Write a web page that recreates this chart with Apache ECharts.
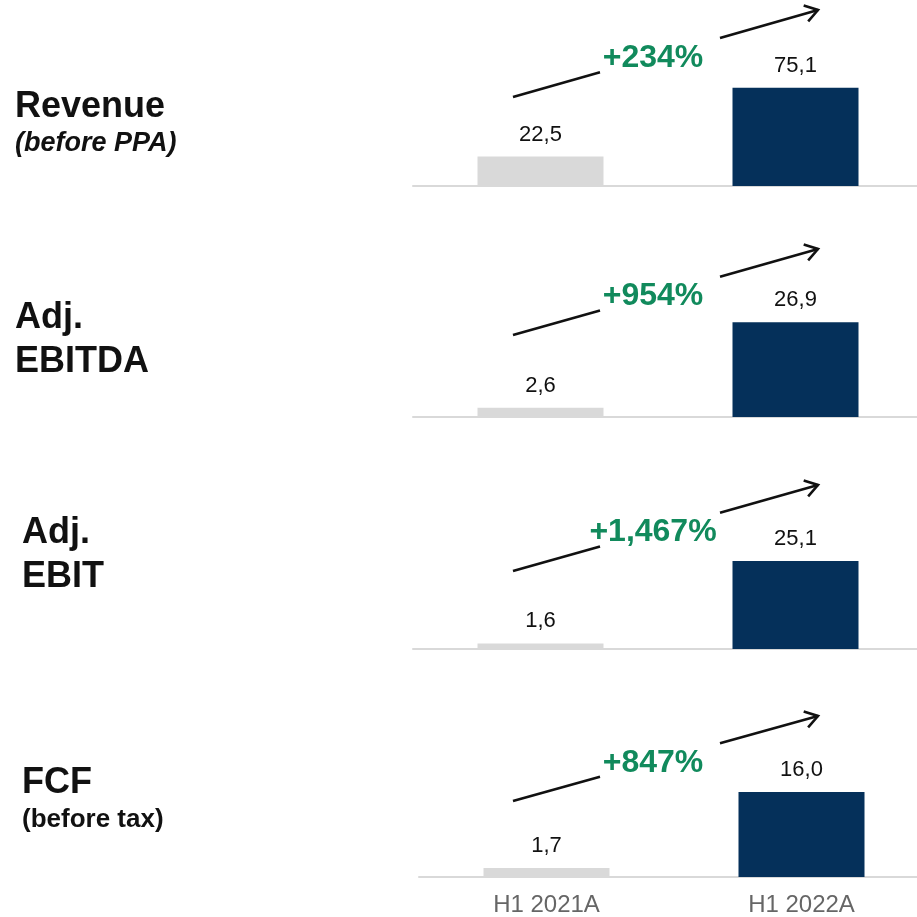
<!DOCTYPE html>
<html>
<head>
<meta charset="utf-8">
<script src="https://cdn.jsdelivr.net/npm/echarts@6/dist/echarts.min.js"></script>
<style>
html,body{margin:0;padding:0;background:#fff;}
#chart{width:917px;height:917px;}
</style>
</head>
<body>
<div id="chart"></div>
<script>
// ---- data ----
const categories = ['H1 2021A', 'H1 2022A'];
const metricTitles = [['Revenue'], ['Adj.', 'EBITDA'], ['Adj.', 'EBIT'], ['FCF']];
const metricSubtitles = ['(before PPA)', '', '', '(before tax)'];
const valuesH1_2021 = [22.5, 2.6, 1.6, 1.7];
const valuesH1_2022 = [75.1, 26.9, 25.1, 16.0];
const growthLabels = ['+234%', '+954%', '+1,467%', '+847%'];

// ---- layout (not data) ----
const FONT = '"Liberation Sans", Arial, sans-serif';
const GRAY = '#d9d9d9', NAVY = '#05305a', GREEN = '#118a5c';
const gridH = 170;
const baselines = [186, 417, 649, 877];
const yMax = [130, 48.3, 48.5, 32];
const gridLeft = [413, 413, 413, 419];
const arrowStartRise = [89, 82, 78, 76];
const arrowEndRise = [176, 168, 164, 161];
const titleX = [15, 15, 22, 22];
const titleBase = [119, 330, 545, 795];

const chart = echarts.init(document.getElementById('chart'), null, {renderer: 'canvas'});

const grids = [], xAxes = [], yAxes = [], series = [];
for (let i = 0; i < 4; i++) {
  grids.push({left: gridLeft[i], width: 510, top: baselines[i] - gridH, height: gridH,
              outerBoundsMode: 'none', containLabel: false});
  xAxes.push({
    type: 'category', gridIndex: i, data: categories,
    axisLine: {show: true, lineStyle: {color: GRAY, width: 2}},
    axisTick: {show: false},
    axisLabel: {show: i === 3, fontSize: 24, color: '#666666', fontFamily: FONT, margin: 16}
  });
  yAxes.push({type: 'value', gridIndex: i, min: 0, max: yMax[i], show: false, splitLine: {show: false}});
  series.push({
    type: 'bar', xAxisIndex: i, yAxisIndex: i, barWidth: 126, silent: true,
    data: [valuesH1_2021[i], valuesH1_2022[i]],
    itemStyle: {color: p => p.dataIndex === 0 ? GRAY : NAVY},
    label: {
      show: true, position: 'top', distance: 11, fontSize: 22, color: '#111', fontFamily: FONT,
      formatter: p => p.value.toFixed(1).replace('.', ',')
    }
  });
}

chart.setOption({
  animation: false,
  backgroundColor: '#fff',
  grid: grids, xAxis: xAxes, yAxis: yAxes, series: series
});

// annotations: titles, growth arrows and labels
const graphics = [];
for (let i = 0; i < 4; i++) {
  const base = chart.convertToPixel({gridIndex: i}, [categories[0], 0])[1];
  // titles
  metricTitles[i].forEach((t, k) => {
    graphics.push({type: 'text', silent: true, style: {
      text: t, x: titleX[i], y: titleBase[i] + k * 44 - 12,
      fontSize: 36, fontWeight: 'bold', fontFamily: FONT, fill: '#111', verticalAlign: 'middle'
    }});
  });
  if (metricSubtitles[i]) {
    graphics.push({type: 'text', silent: true, style: {
      text: metricSubtitles[i], x: titleX[i], y: titleBase[i] + 33 - 8,
      fontSize: i === 0 ? 27 : 26, fontWeight: 'bold', fontStyle: i === 0 ? 'italic' : 'normal',
      fontFamily: FONT, fill: '#111', verticalAlign: 'middle'
    }});
  }
  // arrow
  const x0 = 513, x1 = 818;
  const y0 = base - arrowStartRise[i], y1 = base - arrowEndRise[i];
  const yAt = x => y0 + (y1 - y0) * (x - x0) / (x1 - x0);
  const gapA = 600, gapB = 720;
  const ls = {stroke: '#111', lineWidth: 2.6, lineCap: 'butt'};
  graphics.push({type: 'line', silent: true, shape: {x1: x0, y1: y0, x2: gapA, y2: yAt(gapA)}, style: ls});
  graphics.push({type: 'line', silent: true, shape: {x1: gapB, y1: yAt(gapB), x2: x1, y2: y1}, style: ls});
  const ang = Math.atan2(y0 - y1, x0 - x1);
  const L = 15, a = 0.58;
  graphics.push({type: 'polyline', silent: true, shape: {points: [
    [x1 + L * Math.cos(ang + a), y1 + L * Math.sin(ang + a)],
    [x1, y1],
    [x1 + L * Math.cos(ang - a), y1 + L * Math.sin(ang - a)]
  ]}, style: Object.assign({fill: null}, ls, {lineJoin: 'miter'})});
  // growth label
  const lx = 653;
  graphics.push({type: 'text', silent: true, style: {
    text: growthLabels[i], x: lx, y: yAt(lx) + 1,
    fontSize: 32, fontWeight: 'bold', fontFamily: FONT, fill: GREEN,
    align: 'center', verticalAlign: 'middle'
  }});
}
chart.setOption({graphic: graphics});
</script>
</body>
</html>
